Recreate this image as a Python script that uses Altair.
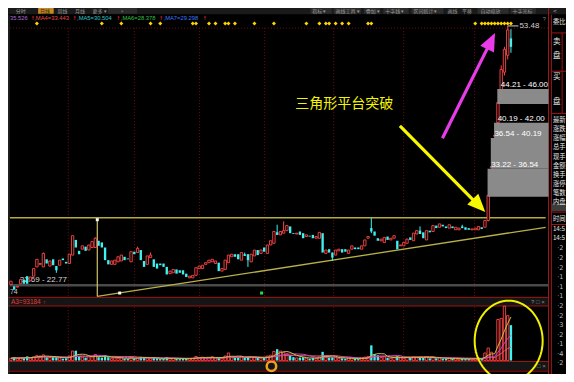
import altair as alt
import pandas as pd
import math

# ---------------- data ----------------
opens = [22.8, 22.6, 22.5, 22.9, 23.4, 23.8, 23.3, 23.8, 24.9, 25.2,
         24.9, 25.8, 25.0, 25.8, 25.0, 25.1, 25.9, 25.5, 25.3, 26.3,
         28.1, 26.8, 27.0, 27.3, 26.9, 27.2, 27.2, 28.0, 27.8, 27.2,
         25.7, 25.2, 25.2, 25.5, 25.6, 26.1, 25.9, 25.5, 26.7, 26.6,
         26.9, 25.6, 25.2, 26.0, 25.8, 25.3, 25.3, 25.3, 24.9, 24.1,
         24.2, 24.6, 24.5, 24.5, 24.1, 23.6, 23.6, 23.9, 24.7, 24.7,
         25.2, 25.4, 25.5, 25.3, 25.4, 24.4, 24.6, 25.4, 26.1, 26.4,
         26.4, 25.7, 26.4, 26.4, 25.5, 26.2, 26.9, 26.5, 27.2, 26.5,
         27.5, 27.7, 29.0, 28.7, 28.9, 29.2, 29.7, 28.9, 28.8, 29.1,
         28.9, 28.5, 28.6, 28.7, 28.3, 28.3, 28.9, 26.5, 27.0, 26.6,
         26.3, 26.8, 27.0, 27.0, 26.5, 27.0, 27.2, 27.2, 27.0, 27.4,
         28.3, 29.5, 29.1, 28.3, 28.0, 27.8, 28.5, 28.1, 28.3, 28.0,
         27.4, 27.4, 27.7, 28.4, 28.0, 28.8, 29.2, 29.0, 28.1, 29.2,
         29.1, 29.8, 29.6, 29.9, 29.7, 29.5, 29.7, 29.3, 29.3, 29.7,
         29.6, 29.5, 29.3, 29.3, 29.3, 29.6, 29.6, 30.4, 36.7, 40.4,
         42.0, 45.0, 48.0, 50.0, 52.0]
closes = [23.2, 22.2, 22.6, 23.4, 22.9, 22.9, 23.7, 24.7, 25.8, 25.3,
          26.5, 25.3, 25.6, 25.1, 24.5, 25.7, 25.7, 25.3, 26.4, 28.6,
          27.2, 26.4, 27.4, 26.8, 27.5, 27.9, 28.3, 27.4, 27.2, 25.7,
          25.2, 25.6, 25.7, 26.1, 26.3, 25.7, 25.8, 26.7, 26.4, 27.1,
          25.7, 24.9, 26.2, 26.3, 24.9, 24.7, 25.1, 24.9, 24.0, 24.4,
          24.6, 24.1, 24.2, 24.0, 23.7, 23.8, 23.9, 24.8, 25.0, 25.1,
          25.4, 25.7, 25.8, 25.6, 24.4, 24.7, 25.7, 26.3, 26.4, 26.1,
          25.8, 26.6, 26.2, 25.7, 26.4, 26.9, 26.3, 26.9, 26.7, 27.5,
          28.0, 29.1, 28.7, 29.1, 29.2, 29.8, 28.9, 28.8, 28.9, 28.7,
          28.3, 28.7, 28.5, 28.3, 28.5, 29.0, 26.6, 26.9, 26.6, 26.0,
          26.9, 27.0, 26.6, 26.7, 26.9, 27.4, 27.0, 27.0, 27.4, 28.1,
          28.5, 29.1, 28.6, 28.0, 28.2, 28.4, 28.1, 28.3, 28.6, 27.0,
          27.5, 27.8, 28.2, 28.1, 28.9, 29.2, 28.8, 28.3, 29.2, 29.0,
          29.8, 29.5, 30.0, 29.7, 29.5, 29.9, 29.5, 29.6, 29.5, 29.5,
          29.3, 29.3, 29.4, 29.5, 29.7, 29.4, 30.4, 33.4, 36.7, 40.4,
          44.4, 48.3, 50.7, 53.0, 51.0]
volumes = [6000, 9000, 5000, 7000, 8000, 11000, 7000, 10000, 13000, 12000,
           15000, 9000, 8000, 10000, 9000, 7000, 5000, 6000, 12000, 25000,
           26000, 12000, 9000, 8000, 10000, 11000, 16000, 9000, 8000, 14000,
           9000, 6000, 7000, 6000, 8000, 5000, 4000, 9000, 6000, 7000,
           10000, 8000, 7000, 5000, 8000, 6000, 4000, 5000, 9000, 5000,
           6000, 5000, 4000, 5000, 6000, 5000, 6000, 11000, 8000, 9000,
           7000, 8000, 10000, 7000, 9000, 6000, 12000, 20000, 10000, 8000,
           9000, 11000, 7000, 10000, 9000, 8000, 7000, 6000, 8000, 12000,
           14000, 24000, 30000, 25000, 22000, 18000, 14000, 9000, 7000, 8000,
           9000, 6000, 5000, 7000, 5000, 10000, 23000, 9000, 8000, 9000,
           8000, 6000, 6000, 5000, 6000, 7000, 5000, 4000, 5000, 9000,
           11000, 40000, 17000, 14000, 8000, 10000, 7000, 6000, 8000, 12000,
           7000, 6000, 8000, 7000, 10000, 9000, 8000, 7000, 10000, 6000,
           9000, 6000, 7000, 5000, 5000, 6000, 5000, 5000, 4000, 5000,
           5000, 4000, 4000, 5000, 7000, 6000, 20000, 33000, 22000, 8000,
           108000, 111000, 143000, 118000, 93184]
wick_high = {10: 26.6, 26: 28.4, 39: 27.3, 43: 26.6, 72: 26.6, 82: 29.9, 84: 30.3,
             111: 30.7, 126: 29.7, 139: 29.9, 151: 48.8, 152: 51.0, 153: 53.48, 154: 53.1}
wick_low = {14: 24.2, 73: 24.9, 99: 25.6, 111: 28.9, 147: 30.3, 150: 41.8,
            151: 44.6, 152: 47.6, 153: 49.5, 154: 50.3}
signal_days = [8, 28, 34, 43, 46, 56, 57, 61, 63, 66, 67, 69, 75, 81, 91, 95, 97, 98,
               100, 102, 104, 110, 111, 143, 145, 146, 147, 148, 149, 150, 151, 152, 153, 154]
chip_lo = [33.22, 36.54, 40.19, 44.21]
chip_hi = [36.54, 40.19, 42.00, 46.00]
chip_start = [147, 148, 149, 150]
low_chip = (22.69, 22.77)
resistance = 30.72
trend_start = (26.6, 21.4)
trend_end = (164.7, 29.6)
high_price = 53.48
ma_labels = ["35.526", ",MA4=33.443", ",MA5=30.504", ",MA6=28.378", ",MA7=29.298"]
vol_label = "A3=93184"
title_text = "三角形平台突破"

# ---------------- layout (scales) ----------------
W, H = 558, 366
RW, RH = 574, 382
X0, DX = 3.0, 3.34
XMIN, XMAX = (0 - X0) / DX, (RW - X0) / DX
PK = 0.11364
PMAX = 33.22 + 197 * PK
PMIN = 33.22 - (RH - 197) * PK
VK = 2518.5
VMAX = 368 * VK
VMIN = -(RH - 368) * VK
XRIGHT = (556 - X0) / DX


def X(f):
    return alt.X(f, type="quantitative", scale=alt.Scale(domain=[XMIN, XMAX], nice=False, zero=False), axis=None)


def YP(f):
    return alt.Y(f, type="quantitative", scale=alt.Scale(domain=[PMIN, PMAX], nice=False, zero=False), axis=None)


def YV(f):
    return alt.Y(f, type="quantitative", scale=alt.Scale(domain=[VMIN, VMAX], nice=False, zero=False), axis=None)


def SX(f):
    return alt.X(f, type="quantitative", scale=alt.Scale(domain=[0, RW], nice=False, zero=False), axis=None)


def SY(f):
    return alt.Y(f, type="quantitative", scale=alt.Scale(domain=[0, RH], nice=False, zero=False, reverse=True), axis=None)


RED = "#ff4646"
CYAN = "#3ef2f2"
layers = []

# ---------------- chrome ----------------
rects = pd.DataFrame([
    (0, 574, 0, 6.5, "#1a1a1a"),
    (31, 47, 0, 6, "#c88a20"),
    (103, 133, 0, 6, "#2c2c2c"),
    (311, 333, 0, 6, "#2c2c2c"), (335, 363, 0, 6, "#2c2c2c"), (366, 383, 0, 6, "#2c2c2c"),
    (386, 412, 0, 6, "#2c2c2c"), (415, 448, 0, 6, "#2c2c2c"), (483, 515, 0, 6, "#2c2c2c"),
    (517, 543, 0, 6, "#2c2c2c"),
    (0, 556, 302, 311, "#151515"),
    (0, 556, 369, 378, "#151515"),
    (559, 574, 204, 212, "#3c3c3c"),
], columns=["x1", "x2", "y1", "y2", "c"])
layers.append(alt.Chart(rects).mark_rect().encode(
    x=SX("x1"), x2="x2", y=SY("y1"), y2="y2", color=alt.Color("c:N", scale=None)))

grid_x = [62, 130, 197, 264, 335, 407, 480]
dots = [(gx, gx, 21, 301) for gx in grid_x] + [(gx, gx, 312, 368) for gx in grid_x] + [(2, 556, 21, 21)]
dots = pd.DataFrame(dots, columns=["x1", "x2", "y1", "y2"])
layers.append(alt.Chart(dots).mark_rule(color="#6e0c0c", strokeWidth=1, strokeDash=[1, 2]).encode(
    x=SX("x1"), x2="x2", y=SY("y1"), y2="y2"))

lines = pd.DataFrame([
    (0, 556, 302, 302, "#a01414"), (0, 556, 311, 311, "#a01414"),
    (0, 556, 369, 369, "#a01414"), (0, 556, 379, 379, "#a01414"),
    (556, 556, 0, 382, "#a01414"), (559, 559, 7, 382, "#a01414"),
    (559, 574, 26, 26, "#a01414"), (559, 574, 66, 66, "#a01414"),
    (559, 574, 110, 110, "#a01414"), (559, 574, 213, 213, "#a01414"),
    (559, 574, 226, 226, "#a01414"), (570, 570, 26, 110, "#a01414"),
    (1, 1, 7, 382, "#3a3a3a"),
], columns=["x1", "x2", "y1", "y2", "c"])
layers.append(alt.Chart(lines).mark_rule(strokeWidth=1).encode(
    x=SX("x1"), x2="x2", y=SY("y1"), y2="y2", color=alt.Color("c:N", scale=None)))

tb = pd.DataFrame([
    ("分时", 8, "#9a9a9a"), ("日线", 33, "#202020"), ("周线", 51, "#9a9a9a"), ("月线", 69, "#9a9a9a"),
    ("更多 ▾", 87, "#9a9a9a"), ("+", 116, "#9a9a9a"),
    ("指标 ▾", 313, "#9a9a9a"), ("画线工具 ▾", 337, "#9a9a9a"), ("叠加 ▾", 368, "#9a9a9a"),
    ("十字线 ▾", 388, "#9a9a9a"), ("区间统计 ▾", 417, "#9a9a9a"), ("画线", 452, "#9a9a9a"),
    ("平移", 467, "#9a9a9a"), ("自动缩放", 486, "#9a9a9a"), ("十字光标", 519, "#9a9a9a"),
], columns=["t", "x", "c"])
tb["y"] = 2.9
layers.append(alt.Chart(tb).mark_text(align="left", baseline="middle", font="Noto Sans CJK SC", fontSize=5).encode(
    x=SX("x"), y=SY("y"), text="t:N", color=alt.Color("c:N", scale=None)))

ma_x = [2, 27, 71, 116, 160]
ma_c = ["#b06ad0", "#e04a4a", "#2ec8c8", "#30c040", "#3c78ff"]
ma_df = pd.DataFrame({"t": ma_labels, "x": ma_x, "c": ma_c, "y": 10.5})
arrow_df = pd.DataFrame({"t": "↑", "x": [23.3, 66.3, 111.3, 155.3, 200.3], "y": 10.5})
layers.append(alt.Chart(ma_df).mark_text(align="left", baseline="middle", font="Liberation Sans", fontSize=5.8).encode(
    x=SX("x"), y=SY("y"), text="t:N", color=alt.Color("c:N", scale=None)))
layers.append(alt.Chart(arrow_df).mark_text(align="left", baseline="middle", font="DejaVu Sans", fontSize=5, color="#ff3030").encode(
    x=SX("x"), y=SY("y"), text="t:N"))

misc = pd.DataFrame([
    (vol_label, 3, 307, "#e03c3c", 6.5), ("↑", 36, 307, "#e03c3c", 5.5),
    ("? □ ×", 538, 307, "#8a8a8a", 6), ("□ ×", 544, 374, "#8a8a8a", 6),
    ("?", 550, 12, "#8a8a8a", 5.5), ("<", 561, 3.5, "#bbbbbb", 6), ("74", 2, 296, "#c8c8c8", 7),
], columns=["t", "x", "y", "c", "fs"])
layers.append(alt.Chart(misc).mark_text(align="left", baseline="middle", font="Liberation Sans").encode(
    x=SX("x"), y=SY("y"), text="t:N", color=alt.Color("c:N", scale=None), size=alt.Size("fs:Q", scale=None)))

side = [("委比", 15, 6.3), ("卖", 36, 7.5), ("盘", 50, 7.5), ("买", 72, 7.5), ("盘", 98, 7.5),
        ("最新", 117, 6.3), ("涨跌", 126.5, 6.3), ("涨幅", 136, 6.3), ("总手", 145.5, 6.3), ("现手", 155, 6.3),
        ("金额", 164.5, 6.3), ("换手", 174, 6.3), ("涨停", 183.5, 6.3), ("笔数", 193, 6.3), ("内盘", 202.5, 6.3),
        ("时间", 220, 6.3), ("14:5", 231, 6.3), ("14:5", 240, 6.3)]
side_df = pd.DataFrame(side, columns=["t", "y", "fs"])
side_df["x"] = 560.5
layers.append(alt.Chart(side_df).mark_text(align="left", baseline="middle", font="Noto Sans CJK SC",
                                           color="#e6e6e6", clip=True).encode(
    x=SX("x"), y=SY("y"), text="t:N", size=alt.Size("fs:Q", scale=None)))
ticks_side = pd.DataFrame({"t": ["·2", "·2", "·2", "·1", "·1", "·1", "·2", "·2", "·3", "·2", "·1", "·4", "·2"],
                           "y": [251, 261, 271, 281, 291, 301, 311, 321, 331, 341, 351, 361, 371]})
ticks_side["x"] = 565
layers.append(alt.Chart(ticks_side).mark_text(align="left", baseline="middle", font="DejaVu Sans", fontSize=6.5,
                                              color="#bdbdbd", clip=True).encode(x=SX("x"), y=SY("y"), text="t:N"))

layers.append(alt.Chart(pd.DataFrame({"x": [271], "y": [374]})).mark_point(
    shape="circle", size=90, filled=False, color="#f0a020", strokeWidth=2.5, opacity=1).encode(x=SX("x"), y=SY("y")))

# ---------------- price panel ----------------
rows = []
for i, (o, c, v) in enumerate(zip(opens, closes, volumes)):
    bl, bh = min(o, c), max(o, c)
    if bh - bl < 0.1:
        bh = bl + 0.1
    rows.append(dict(idx=i, xl=i - 0.36, xr=i + 0.36, lo=wick_low.get(i, bl), hi=wick_high.get(i, bh),
                     bl=bl, bh=bh, vol=v, zero=0, up=c >= o))
cd = pd.DataFrame(rows)
up = cd[cd.up]
dn = cd[~cd.up]

band = pd.DataFrame({"x1": [-0.3], "x2": [XRIGHT], "p": [sum(low_chip) / 2]})
layers.append(alt.Chart(band).mark_rule(color="#4a4a4a", strokeWidth=2.5).encode(x=X("x1"), x2="x2", y=YP("p")))
layers.append(alt.Chart(pd.DataFrame({"x": [2.7], "p": [sum(low_chip) / 2],
                                      "t": [f"{low_chip[0]:.2f} - {low_chip[1]:.2f}"]})).mark_text(
    align="left", baseline="bottom", dy=-1, font="Liberation Sans", fontSize=8, color="#d8d8d8").encode(
    x=X("x"), y=YP("p"), text="t:N"))

hl = pd.DataFrame({"x1": [-0.3], "x2": [164.7], "p": [resistance]})
layers.append(alt.Chart(hl).mark_rule(color="#b4ac3c", strokeWidth=1.5).encode(x=X("x1"), x2="x2", y=YP("p")))
tl = pd.DataFrame({"x1": [trend_start[0]], "x2": [trend_end[0]], "p1": [trend_start[1]], "p2": [trend_end[1]]})
layers.append(alt.Chart(tl).mark_rule(color="#b8b048", strokeWidth=1.3).encode(x=X("x1"), x2="x2", y=YP("p1"), y2="p2"))
vl = pd.DataFrame({"x": [trend_start[0]], "p1": [trend_start[1]], "p2": [30.45]})
layers.append(alt.Chart(vl).mark_rule(color="#d0c470", strokeWidth=1.2).encode(x=X("x"), y=YP("p1"), y2="p2"))
layers.append(alt.Chart(pd.DataFrame({"x": [trend_start[0], 33.5], "p": [30.5, 21.8]})).mark_point(
    shape="square", size=9, filled=True, color="#ffffff", opacity=1).encode(x=X("x"), y=YP("p")))
layers.append(alt.Chart(pd.DataFrame({"x": [77.2], "p": [21.8]})).mark_point(
    shape="square", size=9, filled=True, color="#20e040", opacity=1).encode(x=X("x"), y=YP("p")))

wick_up = up[(up.hi > up.bh) | (up.lo < up.bl)]
wick_dn = dn[(dn.hi > dn.bh) | (dn.lo < dn.bl)]
layers.append(alt.Chart(wick_up).mark_rule(color=RED, strokeWidth=1).encode(x=X("idx"), y=YP("lo"), y2="hi"))
layers.append(alt.Chart(wick_dn).mark_rule(color=CYAN, strokeWidth=1).encode(x=X("idx"), y=YP("lo"), y2="hi"))
layers.append(alt.Chart(up).mark_rect(fill="#000000", stroke=RED, strokeWidth=0.9).encode(
    x=X("xl"), x2="xr", y=YP("bl"), y2="bh"))
layers.append(alt.Chart(dn).mark_rect(color=CYAN).encode(x=X("xl"), x2="xr", y=YP("bl"), y2="bh"))

chips = pd.DataFrame({"lo": chip_lo, "hi": chip_hi, "xl": [s - 0.2 for s in chip_start], "xr": XRIGHT,
                      "lx": [s + 0.9 for s in chip_start],
                      "t": [f"{a:.2f} - {b:.2f}" for a, b in zip(chip_lo, chip_hi)]})
layers.append(alt.Chart(chips).mark_rect(color="#8e8e8e", opacity=0.97).encode(
    x=X("xl"), x2="xr", y=YP("lo"), y2="hi"))
layers.append(alt.Chart(chips).mark_text(align="left", baseline="bottom", dy=0, font="Liberation Sans",
                                         fontSize=8, color="#ffffff").encode(x=X("lx"), y=YP("hi"), text="t:N"))

hi_df = pd.DataFrame({"x1": [153], "x2": [156.3], "p": [high_price], "t": [f"{high_price:.2f}"]})
layers.append(alt.Chart(hi_df).mark_rule(color="#cfcfcf", strokeWidth=1).encode(x=X("x1"), x2="x2", y=YP("p")))
layers.append(alt.Chart(hi_df).mark_text(align="left", baseline="middle", dx=1, font="Liberation Sans",
                                         fontSize=8, color="#cfcfcf").encode(x=X("x2"), y=YP("p"), text="t:N"))

sig = pd.DataFrame({"idx": signal_days, "p": 53.78})
layers.append(alt.Chart(sig).mark_point(shape="diamond", size=16, filled=True, color="#ffd400", opacity=1).encode(
    x=X("idx"), y=YP("p")))

# annotation text and arrows
layers.append(alt.Chart(pd.DataFrame({"x": [102.7], "p": [44.2], "t": [title_text]})).mark_text(
    font="Noto Sans CJK SC", fontSize=14, color="#f5f500", align="center", baseline="middle").encode(
    x=X("x"), y=YP("p"), text="t:N"))
shafts = pd.DataFrame({"x1": [119.8, 132.9], "p1": [41.63, 40.15], "x2": [143.1, 147.2], "p2": [32.54, 51.17],
                       "c": ["#f8f800", "#e83ce8"]})
layers.append(alt.Chart(shafts).mark_rule(strokeWidth=3.2, strokeCap="butt").encode(
    x=X("x1"), x2="x2", y=YP("p1"), y2="p2", color=alt.Color("c:N", scale=None)))
HEAD = "M0,0 L0.85,2 L-0.85,2 Z"
layers.append(alt.Chart(pd.DataFrame({"x": [146.1], "p": [31.40]})).mark_point(
    shape=HEAD, size=324, angle=136, filled=True, color="#f8f800", opacity=1).encode(x=X("x"), y=YP("p")))
layers.append(alt.Chart(pd.DataFrame({"x": [149.1], "p": [52.65]})).mark_point(
    shape=HEAD, size=324, angle=26, filled=True, color="#e83ce8", opacity=1).encode(x=X("x"), y=YP("p")))

# ---------------- volume panel ----------------
vu = cd[cd.up]
vd = cd[~cd.up]
layers.append(alt.Chart(vu).mark_rect(fill="#000000", stroke=RED, strokeWidth=0.9).encode(
    x=X("xl"), x2="xr", y=YV("vol"), y2="zero"))
layers.append(alt.Chart(vd).mark_rect(color=CYAN).encode(x=X("xl"), x2="xr", y=YV("vol"), y2="zero"))
for n, col in [(20, "#e05a6a"), (10, "#d040d0"), (5, "#c8c040")]:
    layers.append(alt.Chart(cd).transform_window(
        ma="mean(vol)", frame=[-(n - 1), 0], sort=[{"field": "idx"}]).mark_line(
        color=col, strokeWidth=1).encode(x=X("idx"), y=YV("ma")))

pts = []
for k in range(73):
    t = 2 * math.pi * k / 72
    pts.append(f"{math.cos(t):.3f},{1.18 * math.sin(t):.3f}")
ELLIPSE = "M" + " L".join(pts) + " Z"
layers.append(alt.Chart(pd.DataFrame({"x": [153.3], "v": [52000]})).mark_point(
    shape=ELLIPSE, size=4624, filled=False, color="#f0f000", strokeWidth=2, opacity=1).encode(
    x=X("x"), y=YV("v")))

chart = alt.layer(*layers).resolve_scale(x="independent", y="independent").properties(
    width=W, height=H, autosize=alt.AutoSizeParams(type="none"), padding=0
).configure(background="#000000").configure_view(strokeWidth=0)

chart.save("out.html", embed_options={"renderer": "svg", "actions": False})
